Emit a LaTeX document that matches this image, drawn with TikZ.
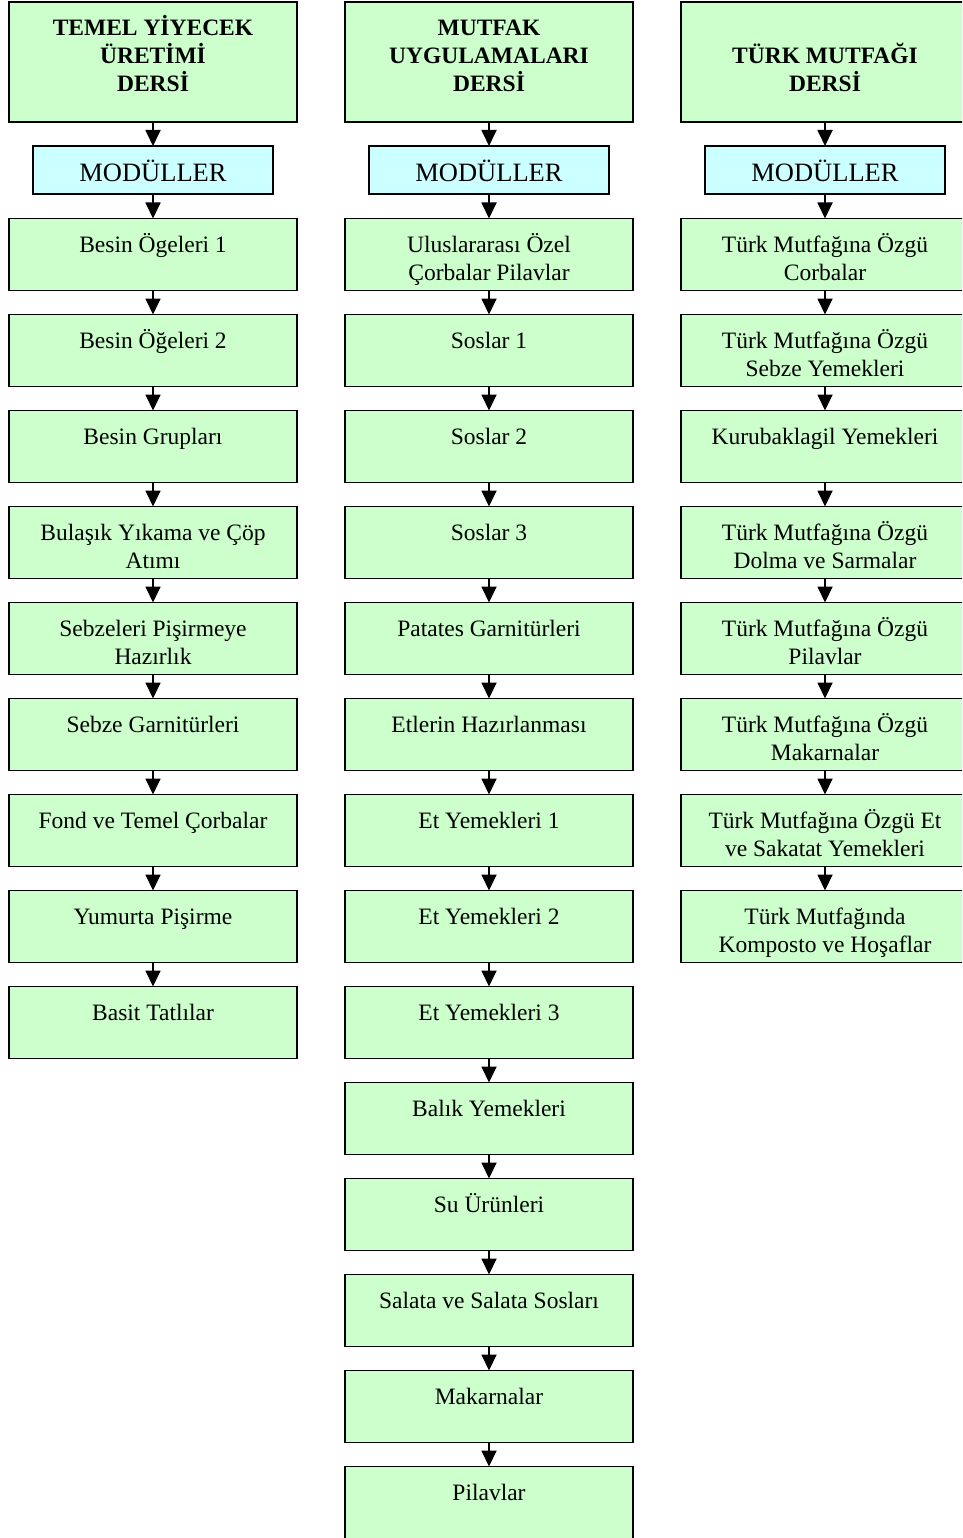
\documentclass[tikz,border=0pt]{standalone}
\usepackage{fontspec}
\setmainfont{Liberation Serif}
\usetikzlibrary{arrows.meta}
\definecolor{boxgreen}{HTML}{CCFFCC}
\definecolor{boxcyan}{HTML}{CCFFFF}
\newcommand{\boxtxt}[1]{\parbox[c][72pt][t]{284pt}{\centering\rule{0pt}{34pt}#1}}
\newcommand{\headtxt}[2]{\parbox[c][120pt][t]{284pt}{\centering\bfseries\rule{0pt}{#1}#2}}
\tikzset{
  gbox/.style={draw=black, line width=1.6pt, fill=boxgreen, minimum width=288pt, minimum height=72pt, inner sep=0pt, outer sep=0pt},
  hbox/.style={draw=black, line width=1.6pt, fill=boxgreen, minimum width=288pt, minimum height=120pt, inner sep=0pt, outer sep=0pt},
  mbox/.style={draw=black, line width=1.6pt, fill=boxcyan, minimum width=240pt, minimum height=48pt, inner sep=0pt, outer sep=0pt, text height=23pt, text depth=0pt, font=\fontsize{26.5}{30}\selectfont},
  arr/.style={line width=1.8pt, -{Triangle[length=16pt,width=15pt]}}
}
\begin{document}
\begin{tikzpicture}[x=1pt,y=-1pt, font=\fontsize{23.5}{28}\selectfont]
\useasboundingbox (0,0) rectangle (962,1538);
\clip (0,0) rectangle (962,1538);
\fill[white] (0,0) rectangle (962,1538);
% headers
\node[hbox] (HL) at (153,62) {\headtxt{34pt}{TEMEL YİYECEK\\ÜRETİMİ\\DERSİ}};
\node[hbox] (HM) at (489,62) {\headtxt{34pt}{MUTFAK\\UYGULAMALARI\\DERSİ}};
\node[hbox] (HR) at (825,62) {\headtxt{62pt}{TÜRK MUTFAĞI\\DERSİ}};
% modules
\node[mbox] (ML) at (153,170) {MODÜLLER};
\node[mbox] (MM) at (489,170) {MODÜLLER};
\node[mbox] (MR) at (825,170) {MODÜLLER};
\draw[arr] (HL.south) -- (ML.north);
\draw[arr] (HM.south) -- (MM.north);
\draw[arr] (HR.south) -- (MR.north);
% left column
\foreach \txt [count=\i] in {{Besin Ögeleri 1},{Besin Öğeleri 2},{Besin Grupları},{Bulaşık Yıkama ve Çöp\\Atımı},{Sebzeleri Pişirmeye\\Hazırlık},{Sebze Garnitürleri},{Fond ve Temel Çorbalar},{Yumurta Pişirme},{Basit Tatlılar}}
  {\node[gbox] (L\i) at (153,{254.5+96*(\i-1)}) {\boxtxt{\txt}};}
% middle column
\foreach \txt [count=\i] in {{Uluslararası Özel\\Çorbalar Pilavlar},{Soslar 1},{Soslar 2},{Soslar 3},{Patates Garnitürleri},{Etlerin Hazırlanması},{Et Yemekleri 1},{Et Yemekleri 2},{Et Yemekleri 3},{Balık Yemekleri},{Su Ürünleri},{Salata ve Salata Sosları},{Makarnalar},{Pilavlar}}
  {\node[gbox] (C\i) at (489,{254.5+96*(\i-1)}) {\boxtxt{\txt}};}
% right column
\foreach \txt [count=\i] in {{Türk Mutfağına Özgü\\Corbalar},{Türk Mutfağına Özgü\\Sebze Yemekleri},{Kurubaklagil Yemekleri},{Türk Mutfağına Özgü\\Dolma ve Sarmalar},{Türk Mutfağına Özgü\\Pilavlar},{Türk Mutfağına Özgü\\Makarnalar},{Türk Mutfağına Özgü Et\\ve Sakatat Yemekleri},{Türk Mutfağında\\Komposto ve Hoşaflar}}
  {\node[gbox] (R\i) at (825,{254.5+96*(\i-1)}) {\boxtxt{\txt}};}
\draw[arr] (ML.south) -- (L1.north);
\draw[arr] (MM.south) -- (C1.north);
\draw[arr] (MR.south) -- (R1.north);
\foreach \i in {1,...,8} {\pgfmathtruncatemacro{\j}{\i+1}\draw[arr] (L\i.south) -- (L\j.north);}
\foreach \i in {1,...,13} {\pgfmathtruncatemacro{\j}{\i+1}\draw[arr] (C\i.south) -- (C\j.north);}
\foreach \i in {1,...,7} {\pgfmathtruncatemacro{\j}{\i+1}\draw[arr] (R\i.south) -- (R\j.north);}
\end{tikzpicture}
\end{document}
